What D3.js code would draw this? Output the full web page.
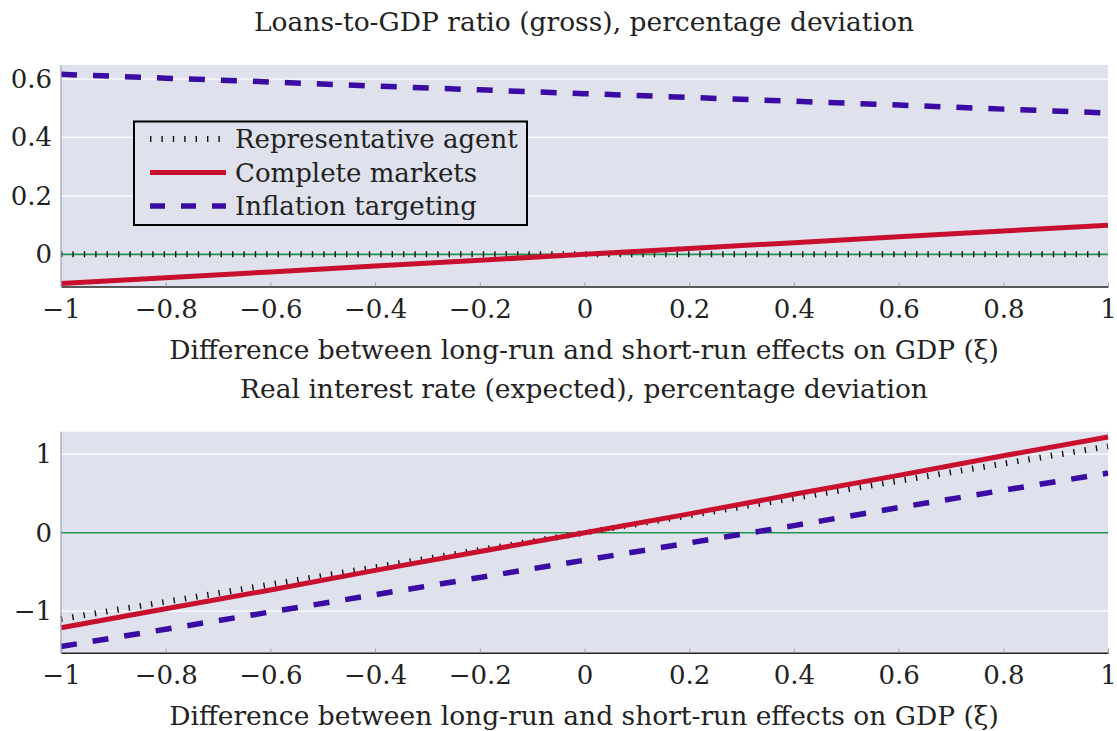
<!DOCTYPE html>
<html>
<head>
<meta charset="utf-8">
<script src="https://cdn.jsdelivr.net/npm/d3@7"></script>
<style>
  body { margin: 0; background: #fff; }
  svg { display: block; font-family: "DejaVu Serif", "Liberation Serif", serif; }
</style>
</head>
<body>
<svg width="1117" height="731"></svg>
<script>
// x grid shared by both panels
var xi = [-1, -0.8, -0.6, -0.4, -0.2, 0, 0.2, 0.4, 0.6, 0.8, 1];
var xTicks = [-1, -0.8, -0.6, -0.4, -0.2, 0, 0.2, 0.4, 0.6, 0.8, 1];

// top panel: loans-to-GDP ratio
var loansRep  = [0, 0, 0, 0, 0, 0, 0, 0, 0, 0, 0];
var loansComp = [-0.10, -0.08, -0.06, -0.04, -0.02, 0, 0.02, 0.04, 0.06, 0.08, 0.10];
var loansInfl = [0.616, 0.603, 0.590, 0.576, 0.563, 0.550, 0.537, 0.524, 0.511, 0.497, 0.484];
var loansYTicks = [0, 0.2, 0.4, 0.6];

// bottom panel: real interest rate
var rateRep  = [-1.10, -0.88, -0.66, -0.44, -0.22, 0, 0.22, 0.44, 0.66, 0.88, 1.10];
var rateComp = [-1.21, -0.97, -0.73, -0.48, -0.24, 0, 0.24, 0.49, 0.73, 0.98, 1.22];
var rateInfl = [-1.45, -1.23, -1.01, -0.79, -0.57, -0.35, -0.13, 0.09, 0.32, 0.54, 0.76];
var rateYTicks = [-1, 0, 1];

var legendNames = ["Representative agent", "Complete markets", "Inflation targeting"];

var styles = [
  {color: "#111", width: 6, dash: "1.4 10"},
  {color: "#c8102e", width: 5, dash: null},
  {color: "#3a0ca3", width: 5.5, dash: "16 16"}
];

var svg = d3.select("svg");
var left = 61, right = 1108;
var fs = 26, fsTitle = 26.5;
var minus = function(v) { return String(v).replace("-", "\u2212"); };

function panel(opt) {
  var x = d3.scaleLinear().domain([-1, 1]).range([left, right]);
  var y = d3.scaleLinear().domain(opt.yDomain).range([opt.bottom, opt.top]);
  var g = svg.append("g");

  g.append("rect").attr("x", left).attr("y", opt.top)
    .attr("width", right - left).attr("height", opt.bottom - opt.top)
    .attr("fill", "#dfe1ed");

  // white gridlines
  g.selectAll(".grid").data(opt.yTicks).enter().append("line")
    .attr("x1", left).attr("x2", right)
    .attr("y1", function(d) { return y(d); }).attr("y2", function(d) { return y(d); })
    .attr("stroke", "#fff").attr("stroke-width", 1.3);

  // zero line
  g.append("line").attr("x1", left).attr("x2", right)
    .attr("y1", y(0)).attr("y2", y(0))
    .attr("stroke", "#1a9450").attr("stroke-width", 1.6);

  // series
  var line = d3.line().x(function(d) { return x(d[0]); }).y(function(d) { return y(d[1]); });
  opt.series.forEach(function(s, i) {
    var st = styles[i];
    g.append("path").datum(xi.map(function(v, k) { return [v, s[k]]; }))
      .attr("d", line).attr("fill", "none")
      .attr("stroke", st.color).attr("stroke-width", st.width)
      .attr("stroke-dasharray", st.dash);
  });

  // left axis line
  g.append("line").attr("x1", left).attr("x2", left)
    .attr("y1", opt.top).attr("y2", opt.bottom)
    .attr("stroke", "#a4a6b4").attr("stroke-width", 1.3);

  // x axis
  var xa = g.append("g").attr("transform", "translate(0," + opt.bottom + ")")
    .call(d3.axisBottom(x).tickValues(xTicks).tickSizeInner(-4).tickSizeOuter(0)
      .tickFormat(function(d) { return minus(d); }))
    .attr("font-family", null).attr("font-size", fs);
  xa.select(".domain").attr("stroke", "#222").attr("stroke-width", 1.6);
  xa.selectAll(".tick line").attr("stroke", "#9a9caa");
  xa.selectAll("text").attr("fill", "#222").attr("y", 13);

  // y axis labels
  var ya = g.append("g").attr("transform", "translate(" + left + ",0)")
    .call(d3.axisLeft(y).tickValues(opt.yTicks).tickSize(0)
      .tickFormat(function(d) { return minus(d); }))
    .attr("font-family", null).attr("font-size", fs);
  ya.select(".domain").remove();
  ya.selectAll("text").attr("fill", "#222").attr("x", -9);

  svg.append("text").attr("x", 584).attr("y", opt.titleY)
    .attr("text-anchor", "middle").attr("font-size", fsTitle).attr("fill", "#222")
    .text(opt.title);
  svg.append("text").attr("x", 584).attr("y", opt.xLabelY)
    .attr("text-anchor", "middle").attr("font-size", fsTitle).attr("fill", "#222")
    .text("Difference between long-run and short-run effects on GDP (\u03BE)");
  return g;
}

panel({
  top: 65, bottom: 286.5, yDomain: [-0.11, 0.648], yTicks: loansYTicks,
  series: [loansRep, loansComp, loansInfl],
  title: "Loans-to-GDP ratio (gross), percentage deviation", titleY: 31, xLabelY: 359
});
panel({
  top: 431.7, bottom: 652.7, yDomain: [-1.529, 1.287], yTicks: rateYTicks,
  series: [rateRep, rateComp, rateInfl],
  title: "Real interest rate (expected), percentage deviation", titleY: 398, xLabelY: 725
});

// legend
var lg = svg.append("g");
lg.append("rect").attr("x", 134).attr("y", 121.5).attr("width", 393).attr("height", 103.5)
  .attr("fill", "#dfe1ed").attr("stroke", "#000").attr("stroke-width", 2);
legendNames.forEach(function(name, i) {
  var cy = 139 + i * 33.5, st = styles[i];
  lg.append("line").attr("x1", 150).attr("x2", 226).attr("y1", cy).attr("y2", cy)
    .attr("stroke", st.color).attr("stroke-width", st.width)
    .attr("stroke-dasharray", i === 2 ? "15 16" : (i === 0 ? "1.4 10" : null));
  lg.append("text").attr("x", 235).attr("y", cy + 9).attr("font-size", fs)
    .attr("fill", "#222").text(name);
});
</script>
</body>
</html>
